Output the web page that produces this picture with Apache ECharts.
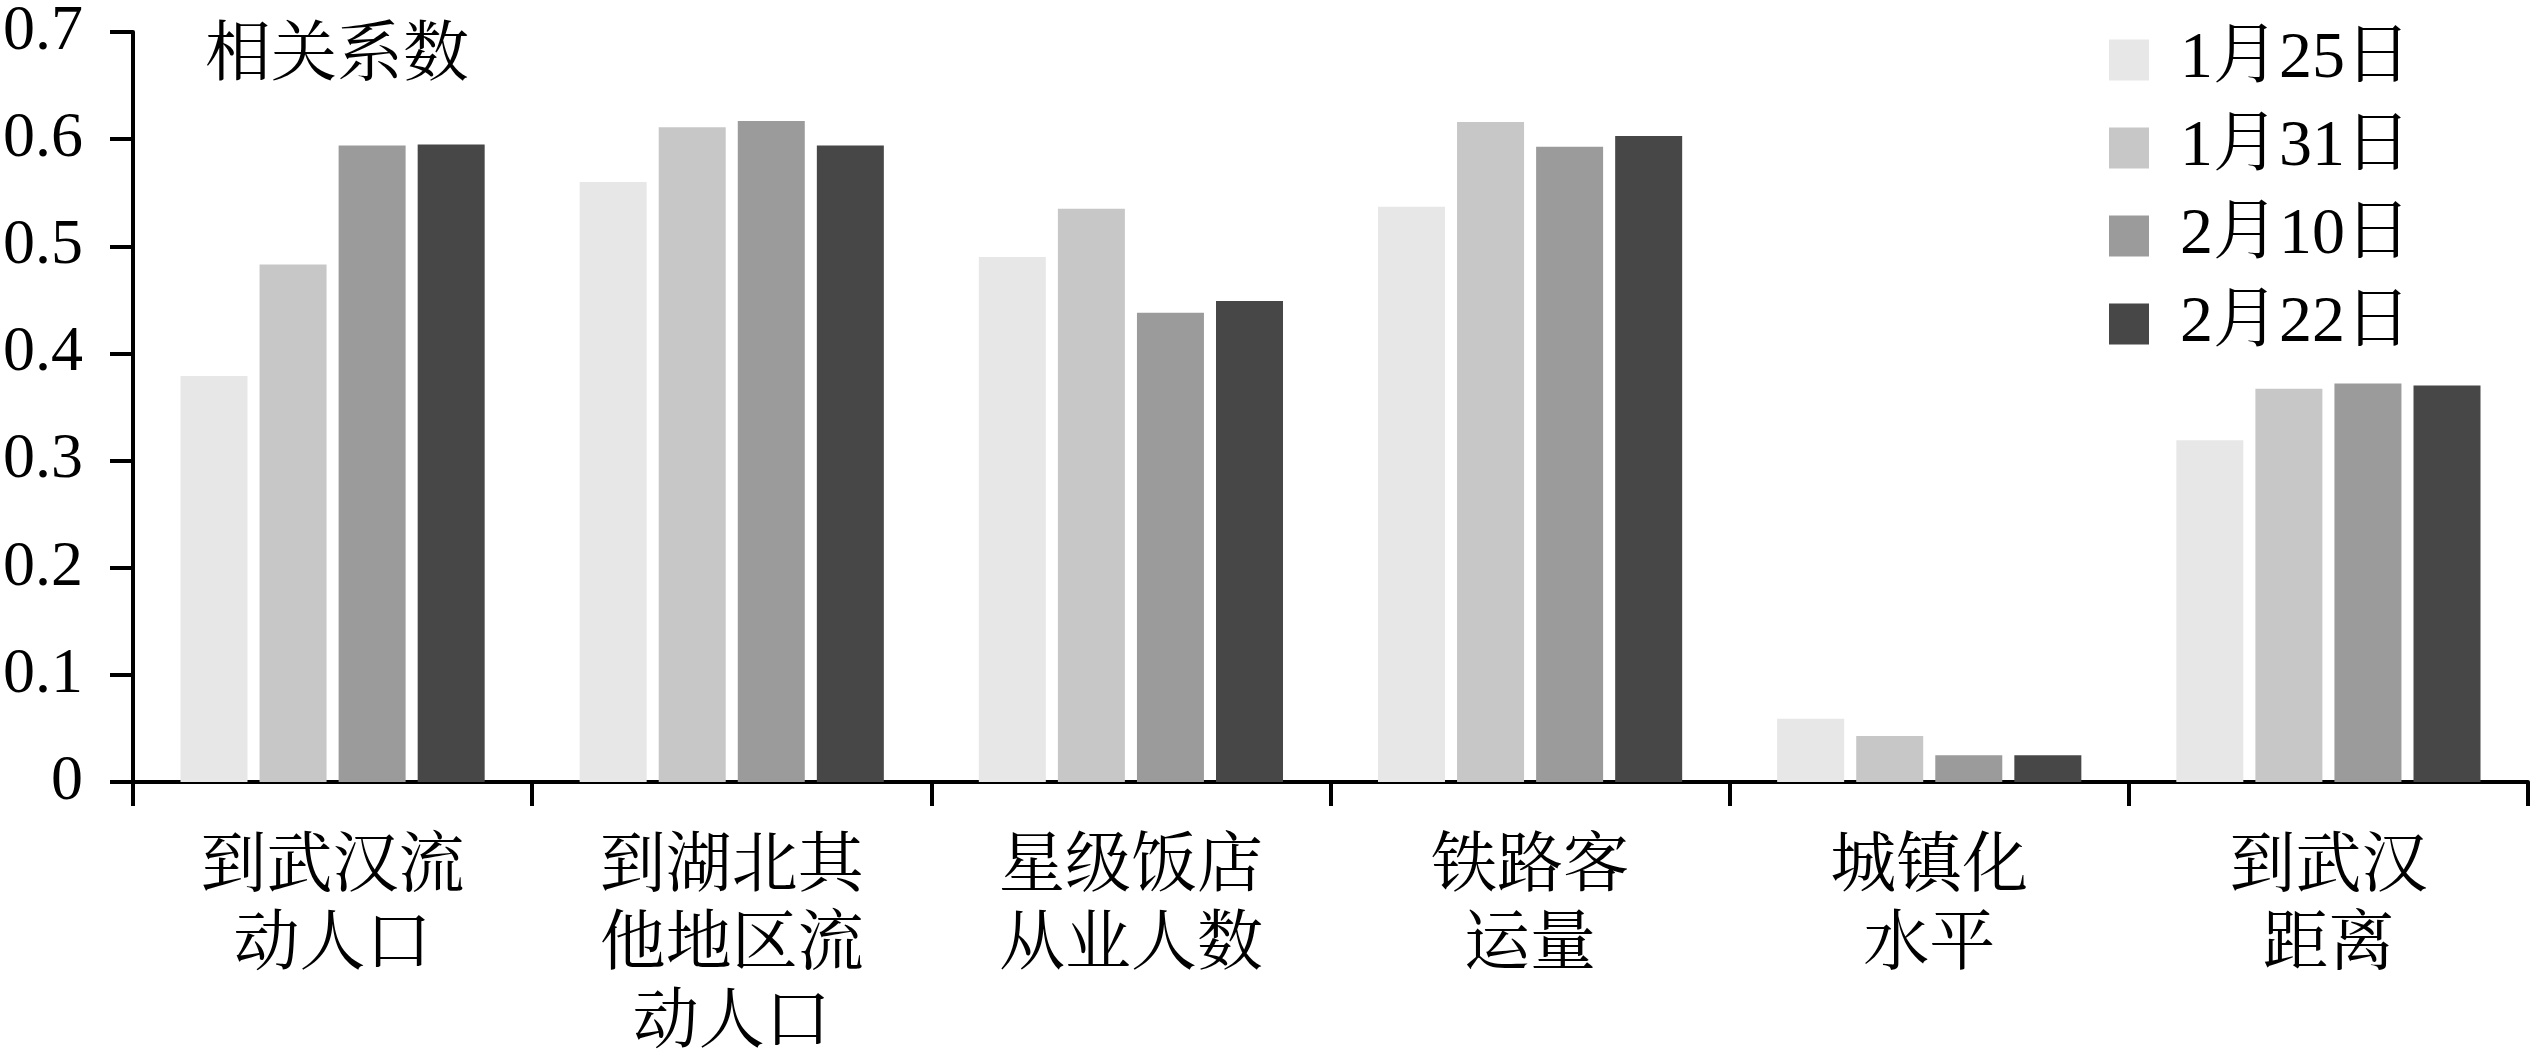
<!DOCTYPE html>
<html>
<head>
<meta charset="utf-8">
<script src="https://cdn.jsdelivr.net/npm/echarts@6/dist/echarts.min.js"></script>
<style>
html,body{margin:0;padding:0;background:#fff;}
#main{width:2532px;height:1064px;}
</style>
</head>
<body>
<div id="main"></div>
<script>
var categories = ['到武汉流\n动人口', '到湖北其\n他地区流\n动人口', '星级饭店\n从业人数', '铁路客\n运量', '城镇化\n水平', '到武汉\n距离'];
var seriesNames = ['1月25日', '1月31日', '2月10日', '2月22日'];
var jan25 = [0.379, 0.560, 0.490, 0.537, 0.059, 0.319];
var jan31 = [0.483, 0.611, 0.535, 0.616, 0.043, 0.367];
var feb10 = [0.594, 0.617, 0.438, 0.593, 0.025, 0.372];
var feb22 = [0.595, 0.594, 0.449, 0.603, 0.025, 0.370];
var yTicks = { min: 0, max: 0.7, interval: 0.1 };
var colors = ['#e7e7e7', '#c7c7c7', '#9b9b9b', '#474747'];

var FONT = "'Liberation Serif', 'Noto Serif CJK SC', 'Noto Sans CJK SC', serif";
var values = [jan25, jan31, feb10, feb22];

var chart = echarts.init(document.getElementById('main'), null, { renderer: 'canvas' });
chart.setOption({
  backgroundColor: '#fff',
  animation: false,
  title: {
    text: '相关系数',
    left: 200,
    top: 20,
    textStyle: { fontFamily: FONT, fontSize: 66, fontWeight: 'normal', color: '#000' }
  },
  legend: {
    orient: 'vertical',
    left: 2104,
    top: 22,
    itemWidth: 40,
    itemHeight: 41,
    itemGap: 22,
    icon: 'rect',
    data: seriesNames,
    textStyle: { fontFamily: FONT, fontSize: 66, color: '#000', padding: [0, 0, 0, 26] }
  },
  grid: { left: 130, right: 4, top: 31, bottom: 268, containLabel: false },
  xAxis: {
    type: 'category',
    data: categories,
    boundaryGap: true,
    axisLine: { lineStyle: { color: '#000', width: 4 } },
    axisTick: { show: true, length: 24, lineStyle: { color: '#000', width: 4 } },
    axisLabel: { fontFamily: FONT, fontSize: 66, lineHeight: 78, color: '#000', margin: 48, interval: 0 },
    splitLine: { show: false }
  },
  yAxis: {
    type: 'value',
    min: yTicks.min,
    max: yTicks.max,
    interval: yTicks.interval,
    axisLine: { show: true, lineStyle: { color: '#000', width: 4 } },
    axisTick: { show: true, length: 23, lineStyle: { color: '#000', width: 4 } },
    axisLabel: { fontFamily: FONT, fontSize: 64, color: '#000', margin: 50 },
    splitLine: { show: false }
  },
  series: seriesNames.map(function (n, i) {
    return {
      name: n,
      type: 'bar',
      data: values[i],
      barWidth: 67,
      barGap: '18%',
      itemStyle: { color: colors[i] }
    };
  })
});
</script>
</body>
</html>
